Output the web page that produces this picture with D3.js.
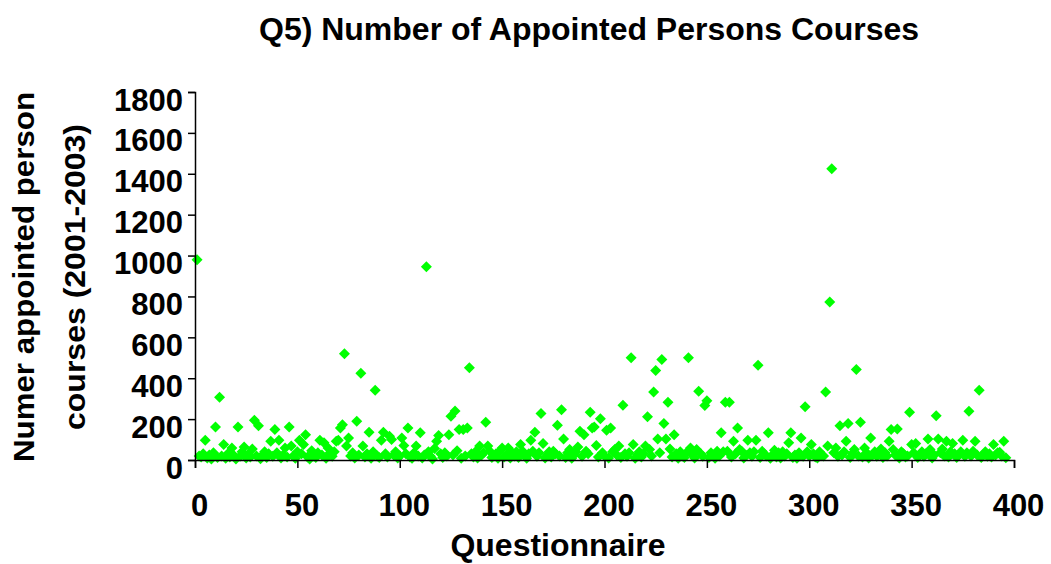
<!DOCTYPE html>
<html>
<head>
<meta charset="utf-8">
<script src="https://cdn.jsdelivr.net/npm/d3@7"></script>
<style>
  body { margin: 0; background: #fff; }
  text { font-family: "Liberation Sans", Arial, sans-serif; font-weight: bold; fill: #000; }
</style>
</head>
<body>
<div id="scatter"></div>
<script>
var svgWidth = 1051;
var svgHeight = 564;

var margin = {
  top: 92,
  right: 37,
  bottom: 104,
  left: 195
};

var width = svgWidth - margin.left - margin.right;
var height = svgHeight - margin.top - margin.bottom;

// chart data: questionnaire number runs 1..n, one value each
var courses = [
  980, 20, 15, 30, 97, 10, 25, 5, 35, 162,
  12, 307, 20, 76, 8, 30, 15, 59, 22, 5,
  162, 18, 40, 64, 10, 28, 15, 54, 194, 20,
  168, 6, 25, 40, 12, 30, 92, 18, 149, 35,
  97, 10, 25, 59, 15, 162, 68, 20, 8, 40,
  97, 30, 76, 124, 15, 5, 45, 20, 12, 35,
  97, 25, 84, 8, 59, 35, 18, 40, 92, 97,
  157, 173, 520, 68, 108, 20, 35, 10, 190, 25,
  424, 68, 15, 30, 136, 8, 40, 341, 20, 12,
  97, 136, 30, 15, 116, 100, 25, 40, 10, 20,
  108, 71, 30, 157, 15, 8, 35, 68, 20, 133,
  10, 25, 945, 40, 18, 5, 56, 92, 120, 30,
  12, 35, 20, 124, 214, 25, 240, 45, 149, 8,
  149, 20, 157, 451, 30, 15, 40, 10, 68, 25,
  35, 185, 68, 43, 12, 20, 30, 8, 45, 59,
  15, 25, 59, 10, 35, 20, 40, 12, 76, 43,
  25, 8, 30, 97, 43, 136, 18, 35, 227, 81,
  10, 25, 40, 15, 43, 30, 170, 20, 246, 103,
  12, 35, 51, 8, 25, 40, 64, 141, 18, 124,
  43, 30, 233, 157, 162, 71, 15, 202, 35, 20,
  146, 10, 157, 40, 51, 25, 68, 12, 268, 30,
  18, 35, 500, 76, 8, 25, 40, 15, 30, 68,
  211, 51, 20, 333, 438, 103, 35, 492, 178, 103,
  282, 54, 15, 124, 30, 8, 40, 20, 12, 35,
  500, 59, 25, 10, 51, 336, 30, 18, 266, 290,
  12, 35, 25, 8, 43, 20, 133, 40, 282, 43,
  282, 15, 92, 30, 157, 51, 43, 10, 25, 97,
  35, 18, 40, 97, 464, 12, 43, 30, 20, 133,
  8, 25, 48, 15, 35, 10, 40, 20, 30, 84,
  133, 12, 25, 8, 35, 108, 18, 260, 40, 20,
  76, 30, 15, 10, 40, 25, 20, 333, 68, 773,
  1424, 35, 59, 18, 168, 25, 40, 92, 178, 12,
  30, 51, 443, 20, 185, 15, 59, 35, 10, 108,
  25, 40, 18, 30, 54, 12, 35, 20, 92, 149,
  51, 25, 152, 10, 40, 30, 15, 20, 233, 76,
  35, 81, 12, 25, 40, 18, 30, 103, 51, 10,
  25, 217, 103, 35, 54, 20, 92, 15, 40, 81,
  30, 12, 25, 40, 97, 18, 35, 238, 20, 43,
  92, 25, 341, 12, 27, 40, 18, 30, 15, 76,
  25, 35, 38, 20, 92, 11
];

var xTicks = [0, 50, 100, 150, 200, 250, 300, 350, 400];
var yTicks = [0, 200, 400, 600, 800, 1000, 1200, 1400, 1600, 1800];

var chartTitle = "Q5) Number of Appointed Persons Courses";
var xTitle = "Questionnaire";
var yTitle = ["Numer appointed person", "courses (2001-2003)"];

var svg = d3
  .select("#scatter")
  .append("svg")
  .attr("width", svgWidth)
  .attr("height", svgHeight);

var chartGroup = svg.append("g")
  .attr("transform", `translate(${margin.left}, ${margin.top})`);

// scales
var xLinearScale = d3.scaleLinear()
  .domain([0, 400])
  .range([0, width]);

var yLinearScale = d3.scaleLinear()
  .domain([0, 1800])
  .range([height, 0]);

var bottomAxis = d3.axisBottom(xLinearScale)
  .tickValues(xTicks)
  .tickFormat(d3.format("d"))
  .tickSize(8)
  .tickPadding(5);

var leftAxis = d3.axisLeft(yLinearScale)
  .tickValues(yTicks)
  .tickFormat(d3.format("d"))
  .tickSize(7)
  .tickPadding(5);

// points first so the axis line sits over them
var diamond = "M0,-5.5L5.5,0L0,5.5L-5.5,0Z";

chartGroup.selectAll(".pt")
  .data(courses)
  .enter()
  .append("path")
  .attr("class", "pt")
  .attr("d", diamond)
  .attr("transform", (d, i) => `translate(${xLinearScale(i + 1)}, ${yLinearScale(d)})`)
  .attr("fill", "#00ff00");

var xAxis = chartGroup.append("g")
  .attr("transform", `translate(0, ${height})`)
  .call(bottomAxis);

var yAxis = chartGroup.append("g")
  .call(leftAxis);

chartGroup.selectAll(".domain, .tick line")
  .attr("stroke", "#000")
  .attr("stroke-width", 1.5);

chartGroup.selectAll(".tick text")
  .style("font-size", "31px")
  .style("font-family", "'Liberation Sans', Arial, sans-serif")
  .style("font-weight", "bold")
  .attr("fill", "#000");

// tick labels sit a little off their ticks in the original
xAxis.selectAll(".tick text")
  .attr("y", 0)
  .attr("dx", 4)
  .attr("dy", 56);
yAxis.selectAll(".tick text")
  .attr("x", -12)
  .attr("dy", 18);

// title
svg.append("text")
  .attr("x", 589)
  .attr("y", 40)
  .attr("text-anchor", "middle")
  .attr("textLength", 660)
  .attr("lengthAdjust", "spacingAndGlyphs")
  .style("font-size", "32px")
  .text(chartTitle);

// x label
svg.append("text")
  .attr("x", 558)
  .attr("y", 556)
  .attr("text-anchor", "middle")
  .style("font-size", "32px")
  .text(xTitle);

// y label, two lines
var labelsYGroup = svg.append("g")
  .attr("transform", "rotate(-90)");

labelsYGroup.append("text")
  .attr("x", -277)
  .attr("y", 34)
  .attr("text-anchor", "middle")
  .attr("textLength", 370)
  .attr("lengthAdjust", "spacingAndGlyphs")
  .style("font-size", "30px")
  .text(yTitle[0]);

labelsYGroup.append("text")
  .attr("x", -277)
  .attr("y", 85)
  .attr("text-anchor", "middle")
  .attr("textLength", 306)
  .attr("lengthAdjust", "spacingAndGlyphs")
  .style("font-size", "30px")
  .text(yTitle[1]);
</script>
</body>
</html>
